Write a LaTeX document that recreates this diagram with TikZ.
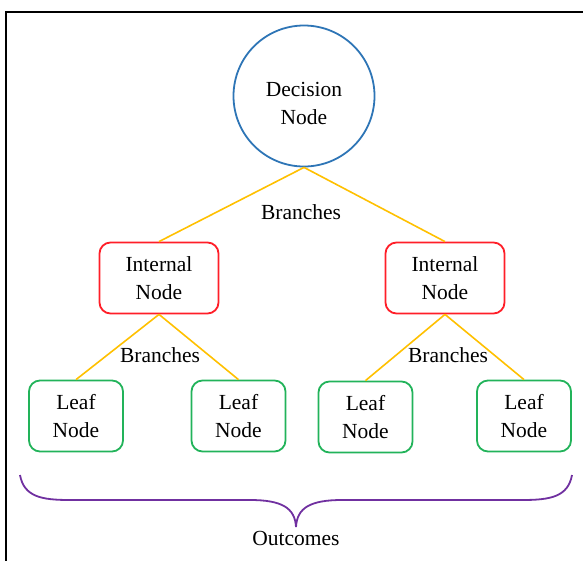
\documentclass[tikz,border=0pt]{standalone}
\usepackage{fontspec}
\setmainfont{Liberation Serif}
\usepackage{tikz}
\usetikzlibrary{positioning}
\definecolor{dblue}{HTML}{2E75B6}
\definecolor{ired}{HTML}{FF1E28}
\definecolor{lgreen}{HTML}{22B35A}
\definecolor{bgold}{HTML}{FFC000}
\definecolor{opurple}{HTML}{7030A0}

\begin{document}
\begin{tikzpicture}[x=1pt,y=-1pt,
  every text node part/.style={align=center},
  every node/.style={font=\fontsize{21.5}{28}\selectfont},
  decision/.style={draw=dblue, line width=1.8pt, circle, minimum size=141pt,
    text height=56pt, text depth=0pt},
  internal/.style={draw=ired, line width=1.8pt, rectangle, rounded corners=11pt,
    minimum width=119pt, minimum height=71pt},
  leaf/.style={draw=lgreen, line width=1.8pt, rectangle, rounded corners=11pt,
    minimum width=94pt, minimum height=71pt},
  branch/.style={draw=bgold, line width=1.6pt},
  brace/.style={draw=opurple, line width=1.8pt}]
  \useasboundingbox (0,0) rectangle (583,560);
  % frame
  \draw[line width=1.8pt] (6,600) -- (6,12) -- (620,12);

  \node (dec) [decision] at (304,96) {Decision \\ Node};
  \node (int1) [internal] at (159,278) {Internal \\ Node};
  \node (int2) [internal] at (445,278) {Internal \\ Node};
  \node (leaf1) [leaf] at (76,416) {Leaf \\ Node};
  \node (leaf2) [leaf] at (238.5,416) {Leaf \\ Node};
  \node (leaf3) [leaf] at (365.5,417) {Leaf \\ Node};
  \node (leaf4) [leaf] at (524,416) {Leaf \\ Node};

  \node (br0) at (301,212) {Branches};
  \node (br1) at (160,355) {Branches};
  \node (br2) at (448,355) {Branches};

  \draw[branch] (dec.south) -- (int1.north);
  \draw[branch] (dec.south) -- (int2.north);
  \draw[branch] (int1.south) -- (leaf1.north);
  \draw[branch] (int1.south) -- (leaf2.north);
  \draw[branch] (int2.south) -- (leaf3.north);
  \draw[branch] (int2.south) -- (leaf4.north);

  % outcomes brace
  \coordinate (tip) at (296,527);
  \draw[brace] (20,475) .. controls (24,497) and (42,500) .. (70,500)
    -- (250,500) .. controls (282,500) and (295,508) .. (tip)
    .. controls (297,508) and (310,500) .. (342,500)
    -- (522,500) .. controls (550,500) and (568,497) .. (572,475);
  \node (out) [below=1pt of tip] {Outcomes};
\end{tikzpicture}
\end{document}
